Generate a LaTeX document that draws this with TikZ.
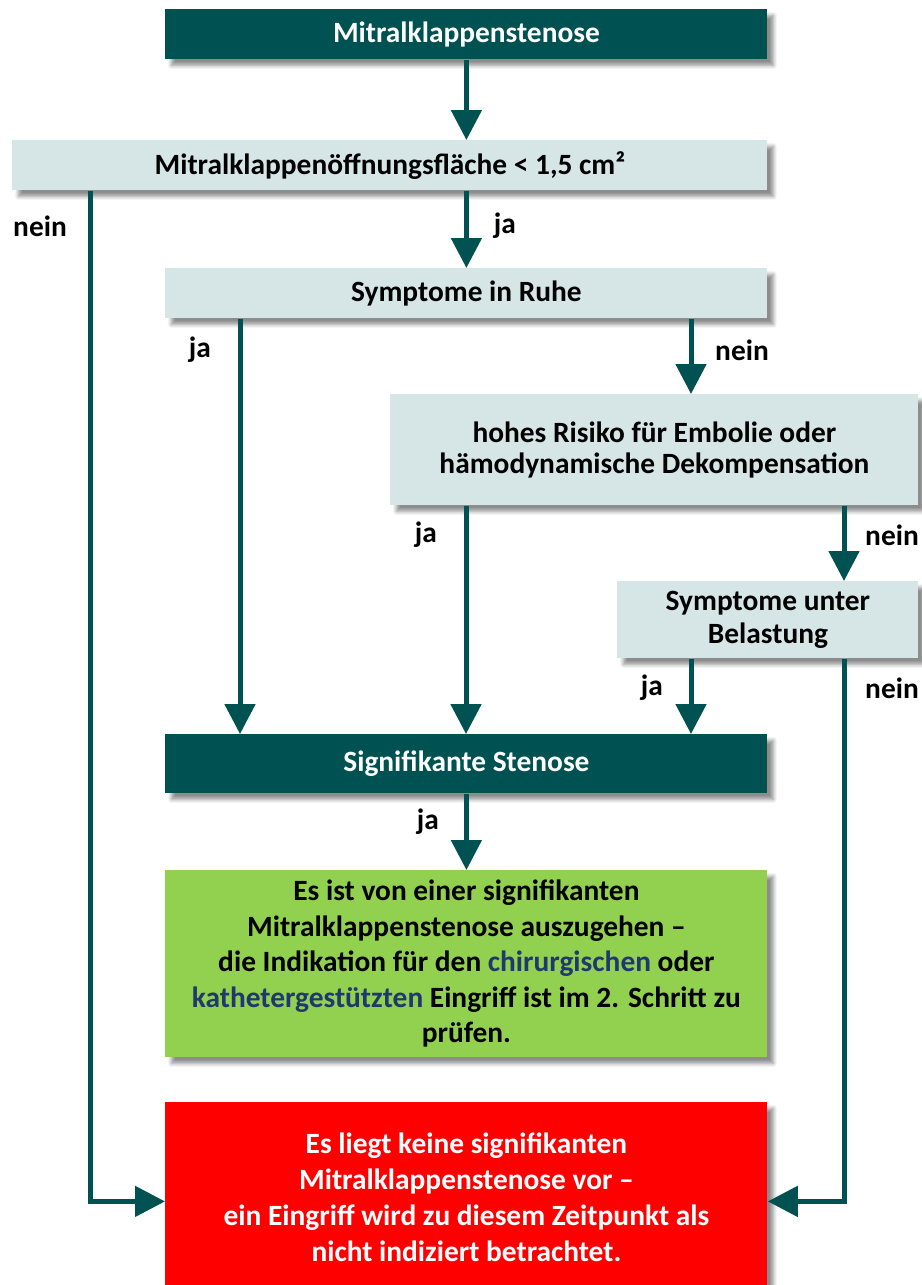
\documentclass[tikz,border=0pt]{standalone}
\usepackage{fontspec}
\setmainfont{Carlito}
\usetikzlibrary{arrows.meta,shadows.blur}
\definecolor{tealdark}{RGB}{0,82,82}
\definecolor{teallight}{RGB}{214,230,230}
\definecolor{okgreen}{RGB}{146,208,80}
\definecolor{nored}{RGB}{255,0,0}
\definecolor{linkblue}{RGB}{31,56,110}
\tikzset{
  boxbase/.style={rectangle, anchor=north west, inner sep=0pt, align=center,
    font=\fontsize{14.7}{17.75}\selectfont\bfseries,
    blur shadow={shadow xshift=3pt, shadow yshift=-3pt, shadow blur steps=6, shadow opacity=45, shadow blur extra rounding=0pt}},
  darkbox/.style={boxbase, fill=tealdark, text=white},
  lightbox/.style={boxbase, fill=teallight, text=black},
  greenbox/.style={boxbase, fill=okgreen, text=black},
  redbox/.style={boxbase, fill=nored, text=white},
  arr/.style={draw=tealdark, line width=2.5pt, -{Triangle[width=15pt,length=15pt]}},
  lbl/.style={font=\fontsize{14.7}{17}\selectfont\bfseries, text=black, inner sep=0pt}
}
\begin{document}
\begin{tikzpicture}[x=0.5pt,y=-0.5pt]
\useasboundingbox (0,0) rectangle (921,1285);
% boxes
\node[darkbox, minimum width=301pt, minimum height=25pt] (b1) at (165,9) {Mitralklappenstenose};
\node[lightbox, minimum width=377.5pt, minimum height=25pt] (b2) at (12,140) {Mitralklappenöffnungsfläche < 1,5 cm²};
\node[lightbox, minimum width=301pt, minimum height=25pt] (b3) at (165,268) {Symptome in Ruhe};
\node[lightbox, minimum width=264pt, minimum height=55.5pt, font=\fontsize{14.7}{15.5}\selectfont\bfseries] (b4) at (390,394) {hohes Risiko für Embolie oder\\hämodynamische Dekompensation};
\node[lightbox, minimum width=150.5pt, minimum height=38.5pt, font=\fontsize{14.7}{16.5}\selectfont\bfseries] (b5) at (617,581) {Symptome unter\\Belastung};
\node[darkbox, minimum width=301pt, minimum height=29.5pt] (b6) at (165,734) {Signifikante Stenose};
\node[greenbox, minimum width=301pt, minimum height=93.5pt] (b7) at (165,870) {Es ist von einer signifikanten\\Mitralklappenstenose auszugehen –\\die Indikation für den \textcolor{linkblue}{chirurgischen} oder\\\textcolor{linkblue}{kathetergestützten} Eingriff ist im 2. Schritt zu\\prüfen.};
\node[redbox, minimum width=301pt, minimum height=95pt, font=\fontsize{14.7}{18}\selectfont\bfseries] (b8) at (165,1102) {Es liegt keine signifikanten\\Mitralklappenstenose vor –\\ein Eingriff wird zu diesem Zeitpunkt als\\nicht indiziert betrachtet.};
% connectors
\draw[arr] (b1.south) -- (b2.north -| b1.south);
\draw[arr] (b3.north |- b2.south) -- (b3.north);
\coordinate (n1) at ([xshift=39pt]b2.south west);
\draw[arr] (n1) |- ([yshift=-2pt]b8.west);
\coordinate (j1) at ([xshift=37.5pt]b3.south west);
\draw[arr] (j1) -- (j1 |- b6.north);
\coordinate (n2) at ([xshift=263pt]b3.south west);
\draw[arr] (n2) -- (n2 |- b4.north);
\coordinate (j2) at ([xshift=38pt]b4.south west);
\draw[arr] (j2) -- (j2 |- b6.north);
\coordinate (n3) at ([xshift=227pt]b4.south west);
\draw[arr] (n3) -- (n3 |- b5.north);
\coordinate (j3) at ([xshift=37pt]b5.south west);
\draw[arr] (j3) -- (j3 |- b6.north);
\coordinate (n4) at ([xshift=113.5pt]b5.south west);
\draw[arr] (n4) |- ([yshift=-2pt]b8.east);
\draw[arr] (b6.south) -- (b7.north);
% labels
\node[lbl] (l1) at (40,226) {nein};
\node[lbl] (l2) at (505,226) {ja};
\node[lbl] (l3) at (200,350) {ja};
\node[lbl] (l4) at (742,350) {nein};
\node[lbl] (l5) at (426,535) {ja};
\node[lbl] (l6) at (892,535) {nein};
\node[lbl] (l7) at (652,688) {ja};
\node[lbl] (l8) at (892,688) {nein};
\node[lbl] (l9) at (428,822) {ja};
\end{tikzpicture}
\end{document}
